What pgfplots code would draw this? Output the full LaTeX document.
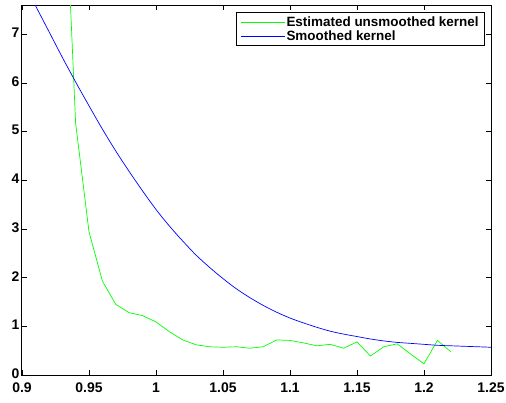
\documentclass[border=0pt]{standalone}
\usepackage{fontspec}
\setmainfont{Liberation Sans}
\usepackage{pgfplots}
\pgfplotsset{compat=1.18}
\definecolor{kgreen}{rgb}{0,1,0}
\definecolor{kblue}{rgb}{0,0,1}
\begin{document}
\begin{tikzpicture}
\begin{axis}[
  scale only axis,
  width=469bp, height=370bp,
  xmin=0.9, xmax=1.25,
  ymin=0, ymax=7.6,
  xtick={0.9,0.95,1,1.05,1.1,1.15,1.2,1.25},
  xticklabels={0.9,0.95,1,1.05,1.1,1.15,1.2,1.25},
  ytick={0,1,2,3,4,5,6,7},
  yticklabels={0,1,2,3,4,5,6,7},
  tick align=inside,
  major tick length=5bp,
  axis line style={line width=1bp},
  tick style={line width=0.6bp, black},
  tick label style={font=\bfseries\fontsize{14}{14}\selectfont},
  xticklabel style={yshift=-4bp},
  yticklabel style={xshift=1bp, yshift=1.5bp},
  legend style={at={(1,1)}, anchor=north east, xshift=-6bp, yshift=-7bp,
    font=\bfseries\fontsize{13.5}{14}\selectfont, draw=black, line width=0.8bp,
    inner xsep=5bp, inner ysep=3bp, row sep=1bp,
    nodes={inner sep=1bp}},
  legend cell align=left,
  legend image code/.code={\draw[#1, line width=0.6bp] (0bp,0bp) -- (44bp,0bp);},
]
\addplot[draw=kgreen, line width=0.7bp] coordinates {
  (0.93,11.5) (0.94,5.18) (0.95,2.94) (0.96,1.93) (0.97,1.45) (0.98,1.28)
  (0.99,1.22) (1.00,1.09) (1.01,0.89) (1.02,0.72) (1.03,0.62) (1.04,0.58)
  (1.05,0.57) (1.06,0.58) (1.07,0.55) (1.08,0.58) (1.09,0.72) (1.10,0.71)
  (1.11,0.66) (1.12,0.60) (1.13,0.63) (1.14,0.55) (1.15,0.68) (1.16,0.39)
  (1.17,0.58) (1.18,0.64) (1.19,0.43) (1.20,0.23) (1.21,0.71) (1.22,0.48)
};
\addlegendentry{Estimated unsmoothed kernel}
\addplot[draw=kblue, line width=0.7bp, smooth] coordinates {
  (0.90,8.12) (0.91,7.59) (0.92,7.06) (0.93,6.53) (0.94,6.02) (0.95,5.53)
  (0.96,5.05) (0.97,4.60) (0.98,4.18) (0.99,3.78) (1.00,3.40) (1.01,3.06)
  (1.02,2.75) (1.03,2.46) (1.04,2.21) (1.05,1.98) (1.06,1.77) (1.07,1.59)
  (1.08,1.43) (1.09,1.29) (1.10,1.17) (1.11,1.07) (1.12,0.98) (1.13,0.90)
  (1.14,0.84) (1.15,0.79) (1.16,0.74) (1.17,0.70) (1.18,0.67) (1.19,0.65)
  (1.20,0.63) (1.21,0.61) (1.22,0.60) (1.23,0.59) (1.24,0.58) (1.25,0.57)
};
\addlegendentry{Smoothed kernel}
\end{axis}
\pgfresetboundingbox
\useasboundingbox (-22bp,-28bp) rectangle (484bp,375bp);
\end{tikzpicture}
\end{document}
